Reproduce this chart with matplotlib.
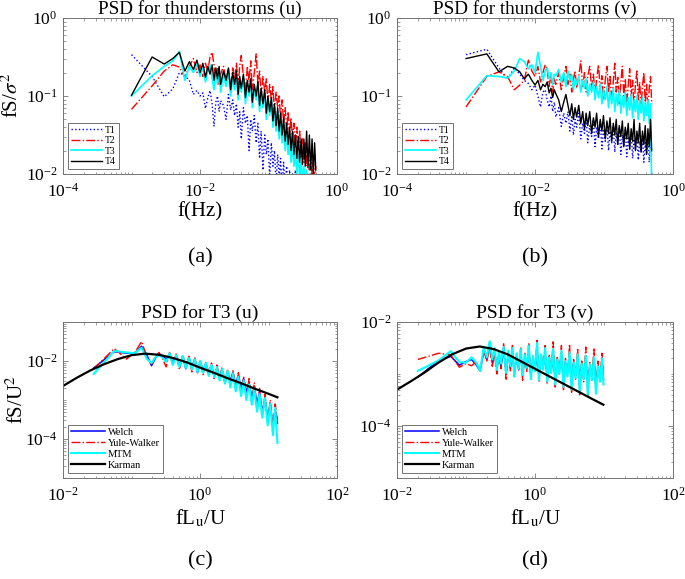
import numpy as np
import matplotlib
matplotlib.use('Agg')
import matplotlib.pyplot as plt
from matplotlib.ticker import LogLocator, NullFormatter

plt.rcParams['font.family'] = ['Liberation Serif', 'DejaVu Serif']
plt.rcParams['mathtext.fontset'] = 'stix'

# ---- top row: frequency (mHz) and log10(fS/sigma^2) ----
f_mhz = [1, 2, 3, 4, 5, 6, 7, 8, 9, 10,
         11, 12, 13, 14, 15, 16, 17, 18, 19, 20,
         22, 24, 26, 28, 30, 32, 34, 36, 38, 40,
         43, 46, 49, 52, 55, 58, 62, 66, 70, 74,
         78, 83, 88, 93, 98, 104, 110, 116, 122, 129,
         136, 143, 150, 158, 166, 175, 184, 193, 203, 213,
         224, 235, 247, 259, 272, 285, 299, 313, 328, 344,
         360, 377, 395, 413, 432, 451, 471, 490]

u_T1 = [-0.47, -0.75, -1.01, -0.91, -0.70, -0.74, -0.80, -0.98, -0.93, -1.00,
        -0.96, -1.16, -1.02, -0.93, -1.10, -1.39, -1.08, -1.00, -1.20, -1.06,
        -1.12, -1.30, -0.98, -1.18, -1.05, -1.25, -1.10, -1.40, -1.20, -1.55,
        -1.15, -1.35, -1.25, -1.70, -1.30, -1.45, -1.25, -1.60, -1.35, -1.80,
        -1.45, -1.95, -1.50, -1.75, -1.55, -2.05, -1.60, -1.90, -1.70, -2.10,
        -1.75, -2.05, -1.80, -2.20, -1.85, -2.15, -1.90, -2.25, -1.95, -2.30,
        -2.00, -2.20, -1.95, -2.30, -2.05, -2.25, -1.98, -2.30, -2.05, -2.25,
        -2.00, -2.30, -2.10, -2.25, -2.05, -2.30, -2.10, -2.20]
u_T2 = [-1.17, -0.87, -0.68, -0.60, -0.63, -0.76, -0.62, -0.52, -0.70, -0.60,
        -0.75, -0.58, -0.68, -0.50, -0.44, -0.60, -0.78, -0.65, -0.85, -0.72,
        -0.62, -0.80, -0.66, -0.90, -0.64, -0.78, -0.58, -0.85, -0.62, -0.48,
        -0.75, -0.95, -0.62, -0.82, -0.55, -0.92, -0.70, -0.46, -0.85, -0.68,
        -1.00, -0.75, -0.95, -0.78, -1.10, -0.85, -1.05, -0.88, -1.20, -0.95,
        -1.15, -1.00, -1.30, -1.05, -1.35, -1.15, -1.45, -1.20, -1.50, -1.28,
        -1.55, -1.35, -1.65, -1.40, -1.70, -1.45, -1.80, -1.55, -1.85, -1.60,
        -1.90, -1.70, -1.95, -1.75, -2.00, -1.85, -2.05, -1.90]
u_T3 = [-1.00, -0.74, -0.62, -0.55, -0.43, -0.80, -0.62, -0.70, -0.58, -0.75,
        -0.62, -0.82, -0.68, -0.60, -0.78, -0.92, -0.70, -0.85, -0.66, -0.95,
        -0.72, -0.88, -0.68, -1.00, -0.78, -0.92, -0.70, -1.05, -0.80, -0.95,
        -0.75, -1.10, -0.85, -1.00, -0.80, -1.15, -0.90, -1.05, -0.85, -1.20,
        -0.95, -1.15, -0.95, -1.30, -1.05, -1.25, -1.05, -1.40, -1.15, -1.45,
        -1.20, -1.55, -1.30, -1.60, -1.35, -1.70, -1.45, -1.75, -1.50, -1.85,
        -1.60, -1.90, -1.70, -2.00, -1.75, -2.05, -1.85, -2.10, -1.90, -2.15,
        -1.95, -2.20, -2.00, -2.25, -2.05, -2.30, -2.10, -2.20]
u_T4 = [-0.99, -0.50, -0.59, -0.52, -0.44, -0.68, -0.56, -0.66, -0.54, -0.70,
        -0.58, -0.76, -0.62, -0.72, -0.60, -0.80, -0.64, -0.78, -0.62, -0.85,
        -0.68, -0.80, -0.64, -0.92, -0.70, -0.85, -0.68, -0.98, -0.75, -0.90,
        -0.72, -1.02, -0.80, -0.95, -0.78, -1.08, -0.85, -1.00, -0.82, -1.12,
        -0.90, -1.10, -0.92, -1.22, -1.00, -1.20, -1.02, -1.32, -1.10, -1.38,
        -1.15, -1.45, -1.22, -1.50, -1.28, -1.58, -1.35, -1.62, -1.40, -1.70,
        -1.45, -1.75, -1.50, -1.80, -1.52, -1.85, -1.55, -1.88, -1.55, -1.90,
        -1.45, -1.92, -1.50, -1.95, -1.55, -2.00, -1.60, -1.95]

v_T1 = [-0.47, -0.40, -0.64, -0.79, -0.64, -0.72, -0.80, -0.84, -0.92, -0.86,
        -1.00, -1.14, -0.95, -0.92, -1.05, -1.14, -1.00, -1.20, -1.08, -1.27,
        -1.15, -1.39, -1.22, -1.35, -1.20, -1.45, -1.25, -1.50, -1.30, -1.40,
        -1.22, -1.55, -1.35, -1.48, -1.28, -1.60, -1.38, -1.52, -1.30, -1.65,
        -1.40, -1.55, -1.32, -1.68, -1.42, -1.58, -1.35, -1.70, -1.45, -1.60,
        -1.38, -1.72, -1.48, -1.62, -1.40, -1.75, -1.50, -1.65, -1.42, -1.78,
        -1.52, -1.68, -1.45, -1.80, -1.55, -1.70, -1.48, -1.82, -1.58, -1.72,
        -1.50, -1.85, -1.60, -1.75, -1.52, -1.85, -1.62, -1.75]
v_T2 = [-1.14, -0.75, -0.69, -0.75, -0.92, -0.86, -0.80, -0.54, -0.68, -0.75,
        -0.62, -0.82, -0.70, -0.60, -0.66, -0.88, -0.72, -0.95, -0.78, -0.85,
        -0.70, -0.92, -0.76, -0.62, -0.85, -0.72, -0.95, -0.78, -0.68, -0.90,
        -0.74, -0.55, -0.88, -0.70, -0.95, -0.75, -0.62, -0.90, -0.72, -1.00,
        -0.78, -0.60, -0.92, -0.74, -1.05, -0.80, -0.62, -0.95, -0.75, -1.08,
        -0.82, -0.58, -0.95, -0.76, -1.10, -0.82, -0.62, -1.00, -0.78, -1.12,
        -0.85, -0.65, -1.00, -0.80, -1.15, -0.85, -0.68, -1.05, -0.82, -1.15,
        -0.88, -0.70, -1.08, -0.85, -1.18, -0.90, -0.75, -1.10]
v_T3 = [-1.05, -0.74, -0.75, -0.77, -0.68, -0.52, -0.56, -0.65, -0.60, -0.70,
        -0.44, -0.62, -0.80, -0.68, -0.64, -0.78, -0.70, -0.85, -0.72, -0.74,
        -0.66, -0.82, -0.70, -0.88, -0.68, -0.80, -0.72, -0.92, -0.78, -0.85,
        -0.75, -0.95, -0.80, -0.90, -0.78, -1.00, -0.85, -0.95, -0.82, -1.05,
        -0.88, -1.02, -0.85, -1.10, -0.92, -1.05, -0.88, -1.15, -0.95, -1.10,
        -0.90, -1.20, -0.98, -1.12, -0.92, -1.22, -1.00, -1.15, -0.95, -1.25,
        -1.02, -1.18, -0.98, -1.28, -1.05, -1.20, -1.00, -1.30, -1.05, -1.22,
        -1.02, -1.32, -1.08, -1.25, -1.05, -1.35, -1.10, -2.30]
v_T4 = [-0.52, -0.46, -0.69, -0.62, -0.64, -0.69, -0.78, -0.72, -0.80, -0.86,
        -0.80, -0.92, -0.85, -0.88, -0.82, -0.96, -0.90, -1.02, -0.92, -0.97,
        -1.05, -1.20, -1.08, -0.98, -1.12, -1.25, -1.10, -1.30, -1.15, -1.27,
        -1.12, -1.35, -1.20, -1.42, -1.22, -1.38, -1.20, -1.48, -1.28, -1.40,
        -1.22, -1.52, -1.30, -1.45, -1.25, -1.55, -1.32, -1.48, -1.28, -1.58,
        -1.35, -1.50, -1.30, -1.62, -1.38, -1.52, -1.32, -1.65, -1.40, -1.55,
        -1.35, -1.68, -1.42, -1.58, -1.30, -1.70, -1.45, -1.60, -1.35, -1.72,
        -1.45, -1.62, -1.38, -1.75, -1.42, -1.65, -1.30, -1.70]

# ---- bottom row: fLu/U and log10(fS/U^2) for T3 ----
xc = [0.028, 0.056, 0.084, 0.112, 0.14, 0.168, 0.196, 0.224, 0.252, 0.28,
      0.32, 0.36, 0.40, 0.45, 0.50, 0.56, 0.62, 0.69, 0.76, 0.84,
      0.92, 1.01, 1.11, 1.22, 1.34, 1.47, 1.61, 1.76, 1.93, 2.11,
      2.31, 2.53, 2.77, 3.03, 3.32, 3.63, 3.97, 4.34, 4.75, 5.2,
      5.7, 6.2, 6.8, 7.4, 8.1, 8.9, 9.7, 10.6, 11.6, 12.5,
      13.5]
c_welch = [-2.18, -1.76, -1.80, -1.80, -1.62, -1.85, -2.12, -1.92, -1.82, -1.86,
           -1.95, -1.82, -2.05, -1.85, -2.10, -1.88, -2.20, -1.90, -2.15, -1.95,
           -2.30, -2.02, -2.25, -2.05, -2.35, -2.12, -2.40, -2.18, -2.45, -2.25,
           -2.55, -2.30, -2.50, -2.30, -2.60, -2.35, -2.70, -2.45, -2.80, -2.55,
           -2.95, -2.65, -3.10, -2.80, -3.30, -2.95, -3.50, -3.10, -3.70, -3.25,
           -3.60]
c_yule = [-2.20, -1.68, -1.95, -1.78, -1.50, -1.90, -2.08, -1.88, -1.78, -1.92,
          -2.15, -1.78, -2.05, -1.82, -2.22, -1.85, -2.15, -1.88, -2.28, -1.92,
          -2.20, -2.00, -2.35, -2.02, -2.30, -2.05, -2.45, -2.10, -2.40, -2.15,
          -2.55, -2.20, -2.62, -2.25, -2.70, -2.30, -2.85, -2.40, -2.95, -2.45,
          -3.10, -2.55, -3.25, -2.70, -3.40, -2.85, -3.55, -3.00, -3.70, -3.10,
          -3.50]
c_mtm = [-2.33, -1.74, -1.78, -1.80, -1.66, -1.95, -2.05, -1.90, -1.85, -1.90,
         -2.02, -1.80, -2.10, -1.85, -2.15, -1.87, -2.18, -1.92, -2.22, -1.95,
         -2.28, -2.00, -2.30, -2.05, -2.38, -2.10, -2.42, -2.15, -2.50, -2.20,
         -2.58, -2.25, -2.68, -2.32, -2.78, -2.40, -2.90, -2.50, -3.00, -2.60,
         -3.12, -2.70, -3.30, -2.85, -3.45, -2.95, -3.65, -3.10, -3.90, -3.20,
         -4.10]
c_karman_logx = [-2.0, -1.8, -1.6, -1.4, -1.2, -1.0, -0.8, -0.6, -0.4, -0.2,
                 0.0, 0.2, 0.4, 0.6, 0.8, 1.0, 1.13]
c_karman = [-2.64, -2.43, -2.24, -2.08, -1.95, -1.85, -1.81, -1.84, -1.92, -2.03,
            -2.17, -2.30, -2.44, -2.57, -2.71, -2.84, -2.93]

xd = [0.02, 0.04, 0.06, 0.08, 0.10, 0.12, 0.14, 0.16, 0.18, 0.20,
      0.22, 0.24, 0.26, 0.28, 0.30, 0.32, 0.35, 0.38, 0.41, 0.44,
      0.47, 0.50, 0.54, 0.58, 0.62, 0.66, 0.71, 0.76, 0.81, 0.87,
      0.93, 1.00, 1.07, 1.14, 1.22, 1.31, 1.40, 1.50, 1.60, 1.71,
      1.83, 1.96, 2.10, 2.25, 2.41, 2.58, 2.76, 2.95, 3.16, 3.38,
      3.62, 3.87, 4.14, 4.43, 4.74, 5.07, 5.43, 5.81, 6.22, 6.65,
      7.12, 7.62, 8.15, 8.72, 9.33, 9.80]
d_welch = [-3.06, -2.74, -2.66, -2.83, -2.76, -2.72, -2.82, -2.94, -2.55, -2.72,
           -2.40, -2.78, -2.58, -2.90, -2.62, -2.85, -2.55, -2.95, -2.62, -2.88,
           -2.58, -3.00, -2.65, -2.92, -2.60, -2.98, -2.68, -2.90, -2.55, -3.02,
           -2.70, -2.92, -2.60, -3.05, -2.70, -2.88, -2.58, -3.08, -2.72, -2.95,
           -2.62, -3.10, -2.75, -2.92, -2.65, -3.12, -2.78, -2.95, -2.68, -3.15,
           -2.80, -2.98, -2.70, -3.18, -2.82, -3.00, -2.72, -3.20, -2.85, -3.02,
           -2.75, -3.22, -2.88, -3.05, -2.78, -3.10]
d_yule = [-2.72, -2.60, -2.63, -2.87, -2.80, -2.84, -2.76, -2.92, -2.60, -2.75,
          -2.50, -2.85, -2.62, -3.00, -2.55, -2.90, -2.40, -3.10, -2.58, -2.95,
          -2.45, -3.05, -2.62, -2.88, -2.50, -3.12, -2.60, -2.95, -2.42, -3.08,
          -2.65, -2.90, -2.35, -3.15, -2.60, -2.85, -2.45, -3.20, -2.62, -2.95,
          -2.38, -3.25, -2.68, -3.00, -2.45, -3.30, -2.70, -3.05, -2.42, -3.35,
          -2.72, -3.10, -2.50, -3.40, -2.75, -3.15, -2.48, -3.42, -2.78, -3.12,
          -2.52, -3.35, -2.75, -3.10, -2.60, -3.00]
d_mtm = [-2.94, -2.74, -2.56, -2.77, -2.78, -2.68, -2.78, -2.94, -2.49, -2.68,
         -2.37, -2.72, -2.50, -2.92, -2.58, -2.80, -2.48, -2.98, -2.55, -2.85,
         -2.50, -3.05, -2.60, -2.90, -2.52, -3.02, -2.62, -2.88, -2.45, -3.10,
         -2.65, -2.95, -2.40, -3.12, -2.62, -2.92, -2.50, -3.15, -2.68, -2.98,
         -2.52, -3.20, -2.72, -3.00, -2.55, -3.25, -2.75, -3.05, -2.58, -3.30,
         -2.78, -3.08, -2.62, -3.35, -2.80, -3.10, -2.65, -3.40, -2.82, -3.12,
         -2.68, -3.38, -2.85, -3.15, -2.70, -3.20]
d_karman_logx = [-2.0, -1.8, -1.6, -1.4, -1.2, -1.0, -0.8, -0.6, -0.4, -0.2,
                 0.0, 0.2, 0.4, 0.6, 0.8, 0.99]
d_karman = [-3.30, -3.14, -2.97, -2.78, -2.62, -2.51, -2.47, -2.52, -2.62, -2.76,
            -2.90, -3.04, -3.18, -3.32, -3.46, -3.59]

top_labels = ['T1', 'T2', 'T3', 'T4']
bottom_labels = ['Welch', 'Yule-Walker', 'MTM', 'Karman']

CYAN = '#00FFFF'


def p10(v):
    return np.power(10.0, np.asarray(v))


def style(ax, xlim, ylim, xticks, yticks):
    ax.set_xscale('log')
    ax.set_yscale('log')
    ax.set_xlim(xlim)
    ax.set_ylim(ylim)
    ax.set_xticks(xticks)
    ax.set_yticks(yticks)
    ax.xaxis.set_minor_locator(LogLocator(base=10, subs=np.arange(1, 10) * 1.0, numticks=30))
    ax.yaxis.set_minor_locator(LogLocator(base=10, subs=np.arange(1, 10) * 1.0, numticks=30))
    ax.xaxis.set_minor_formatter(NullFormatter())
    ax.yaxis.set_minor_formatter(NullFormatter())
    ax.tick_params(which='both', direction='in', top=True, right=True,
                   color='0.45', labelcolor='k', labelsize=12.5)
    ax.tick_params(which='major', length=3.5, width=0.6)
    ax.tick_params(which='minor', length=1.8, width=0.5)
    ax.tick_params(axis='x', which='major', pad=6.5)
    ax.tick_params(axis='y', which='major', pad=4)
    for s in ax.spines.values():
        s.set_color('0.45')
        s.set_linewidth(0.7)


def legend(ax, fs):
    lg = ax.legend(loc='lower left', fontsize=fs, handlelength=3.2, handletextpad=0.3,
                   labelspacing=0.15, borderpad=0.3, borderaxespad=0.5,
                   fancybox=False, framealpha=1)
    lg.get_frame().set_edgecolor('0.45')
    lg.get_frame().set_linewidth(0.7)


fig = plt.figure(figsize=(6.85, 5.79), dpi=100)
ax_a = fig.add_axes([0.092, 0.6995, 0.400, 0.2694])
ax_b = fig.add_axes([0.5796, 0.6995, 0.403, 0.2694])
ax_c = fig.add_axes([0.092, 0.1744, 0.400, 0.2694])
ax_d = fig.add_axes([0.5796, 0.1744, 0.403, 0.2694])

f_hz = np.array(f_mhz) * 1e-3
styles_top = [('b', ':', 1.0), ('r', '-.', 1.0), (CYAN, '-', 1.2), ('k', '-', 1.0)]
for ax, series, comp in [(ax_a, [u_T1, u_T2, u_T3, u_T4], 'u'),
                         (ax_b, [v_T1, v_T2, v_T3, v_T4], 'v')]:
    for vals, lab, (col, ls, lw) in zip(series, top_labels, styles_top):
        ax.plot(f_hz, p10(vals), color=col, ls=ls, lw=lw, label=lab)
    style(ax, (1e-4, 1), (1e-2, 1), [1e-4, 1e-2, 1], [1e-2, 1e-1, 1])
    ax.set_title('PSD for thunderstorms (%s)' % comp, fontsize=13.8, pad=-0.5)
    ax.set_xlabel('f(Hz)', fontsize=15)
    ax.xaxis.set_label_coords(0.5, -0.18)
    legend(ax, 7)
ax_a.set_ylabel(r'fS/$\sigma^2$', fontsize=15)
ax_a.yaxis.set_label_coords(-0.145, 0.5)

styles_bot = [('b', '-', 1.1), ('r', '-.', 1.0), (CYAN, '-', 1.5), ('k', '-', 1.6)]
for ax, xs, series, klx, kv, comp, ylim in [
        (ax_c, xc, [c_welch, c_yule, c_mtm], c_karman_logx, c_karman, 'u', (1e-5, 1e-1)),
        (ax_d, xd, [d_welch, d_yule, d_mtm], d_karman_logx, d_karman, 'v', (1e-5, 1e-2))]:
    for vals, lab, (col, ls, lw) in zip(series, bottom_labels[:3], styles_bot[:3]):
        ax.plot(xs, p10(vals), color=col, ls=ls, lw=lw, label=lab)
    col, ls, lw = styles_bot[3]
    ax.plot(p10(klx), p10(kv), color=col, ls=ls, lw=lw, label=bottom_labels[3])
    style(ax, (1e-2, 1e2), ylim, [1e-2, 1, 1e2], [1e-4, 1e-2])
    ax.set_title('PSD for T3 (%s)' % comp, fontsize=14, pad=2)
    ax.set_xlabel(r'fL$_\mathrm{u}$/U', fontsize=15)
    ax.xaxis.set_label_coords(0.5, -0.19)
    legend(ax, 7.5)
ax_c.set_ylabel(r'fS/U$^2$', fontsize=15)
ax_c.yaxis.set_label_coords(-0.13, 0.5)

for x, y, t in [(0.292, 0.554, '(a)'), (0.781, 0.554, '(b)'),
                (0.292, 0.031, '(c)'), (0.781, 0.031, '(d)')]:
    fig.text(x, y, t, ha='center', va='center', fontsize=16)

fig.savefig('out.png', dpi=100)
